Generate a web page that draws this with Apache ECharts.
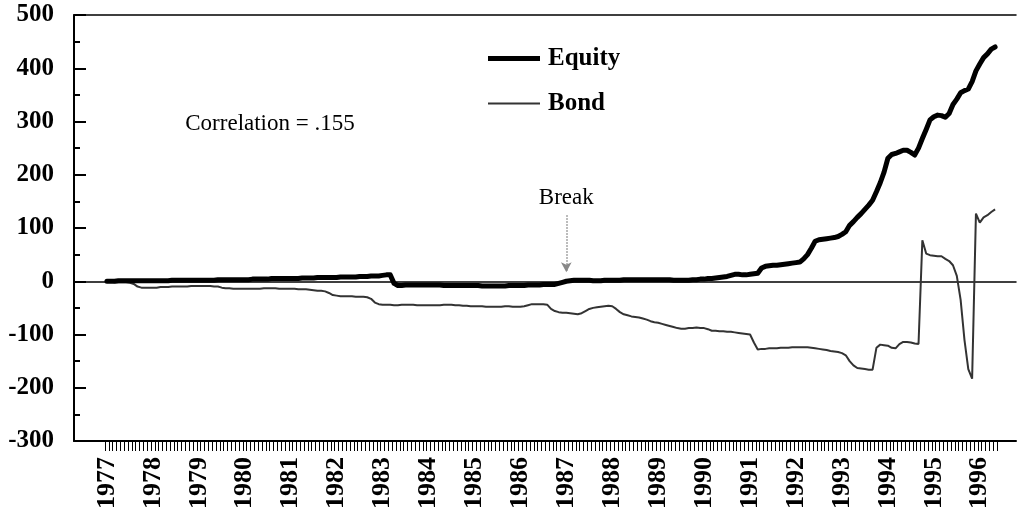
<!DOCTYPE html>
<html>
<head>
<meta charset="utf-8">
<script src="https://cdn.jsdelivr.net/npm/echarts@6/dist/echarts.min.js"></script>
<style>
html,body{margin:0;padding:0;background:#fff;}
#chart{width:1018px;height:516px;}
</style>
</head>
<body>
<div id="chart"></div>
<script>
// ---- data ----
const years = [1977,1978,1979,1980,1981,1982,1983,1984,1985,1986,1987,1988,1989,1990,1991,1992,1993,1994,1995,1996];
const monthsInLastYear = 5;
const seriesNames = ['Equity', 'Bond'];
const yTicks = { min: -300, max: 500, step: 100 };
const correlationText = 'Correlation = .155';
const breakLabel = 'Break';
const breakMonth = '1987-01';
const breakArrow = [124, 17];

const equity = [
  0,0,0,1,1,1,1,1,1,1,1,1,
  1,1,1,1,1,2,2,2,2,2,2,2,
  2,2,2,2,2,3,3,3,3,3,3,3,
  3,3,4,4,4,4,4,5,5,5,5,5,
  5,5,5,6,6,6,6,7,7,7,7,7,
  7,8,8,8,8,8,9,9,9,10,10,10,
  11,12,12,-4,-8,-8,-7,-7,-7,-7,-7,-7,
  -7,-7,-7,-7,-8,-8,-8,-8,-8,-8,-8,-8,
  -8,-8,-9,-9,-9,-9,-9,-9,-9,-8,-8,-8,
  -8,-8,-7,-7,-7,-7,-6,-6,-6,-6,-4,-2,
  0,1,2,2,2,2,2,1,1,1,2,2,
  2,2,2,3,3,3,3,3,3,3,3,3,
  3,3,3,3,2,2,2,2,2,3,3,4,
  4,5,5,6,7,8,9,11,13,13,12,12,
  13,14,15,25,28,29,30,30,31,32,33,34,
  35,36,42,50,62,75,78,79,80,81,82,84,
  88,93,105,112,120,127,135,143,152,168,185,205,
  231,238,240,243,246,246,242,237,250,268,285,303,
  309,312,311,308,315,332,342,354,358,361,375,395,
  408,420,427,436,440
];

const bond = [
  -1,-1,-2,-2,-2,-2,-3,-5,-10,-12,-12,-12,
  -12,-12,-11,-11,-11,-10,-10,-10,-10,-10,-9,-9,
  -9,-9,-9,-9,-10,-10,-12,-13,-13,-14,-14,-14,
  -14,-14,-14,-14,-14,-13,-13,-13,-13,-14,-14,-14,
  -14,-14,-15,-15,-15,-16,-17,-18,-18,-19,-22,-26,
  -27,-28,-28,-28,-28,-29,-29,-29,-30,-33,-40,-43,
  -44,-44,-44,-45,-45,-44,-44,-44,-44,-45,-45,-45,
  -45,-45,-45,-45,-44,-44,-44,-45,-45,-46,-46,-47,
  -47,-47,-47,-48,-48,-48,-48,-48,-47,-47,-48,-48,
  -48,-47,-45,-43,-43,-43,-43,-44,-52,-56,-58,-59,
  -59,-60,-61,-62,-60,-56,-52,-50,-49,-48,-47,-46,
  -47,-52,-58,-62,-64,-66,-67,-68,-70,-72,-75,-77,
  -78,-80,-82,-84,-86,-88,-89,-89,-88,-88,-87,-88,
  -88,-90,-93,-93,-94,-94,-95,-95,-96,-97,-98,-99,
  -100,-115,-128,-127,-127,-126,-126,-126,-125,-125,-125,-124,
  -124,-124,-124,-124,-125,-126,-127,-128,-129,-131,-132,-133,
  -135,-139,-150,-158,-163,-164,-165,-166,-166,-125,-119,-120,
  -121,-125,-126,-118,-114,-114,-115,-117,-118,77,52,49,
  48,47,47,42,38,30,10,-35,-110,-165,-183,127,
  110,120,124,130,135
];

// monthly categories built from the year list
const categories = [];
years.forEach((y, k) => {
  const n = (k === years.length - 1) ? monthsInLastYear : 12;
  for (let m = 1; m <= n; m++) categories.push(y + '-' + String(m).padStart(2, '0'));
});

const serif = 'Liberation Serif';
const gridTop = 15, gridBottom = 75;

const chart = echarts.init(document.getElementById('chart'), null, { renderer: 'canvas' });
chart.setOption({
  animation: false,
  backgroundColor: '#fff',
  grid: [
    { left: 74, right: 2, top: gridTop, bottom: gridBottom, outerBoundsMode: 'none' },
    { left: 105, right: 21, top: gridTop, bottom: gridBottom, outerBoundsMode: 'none' },
    { left: 74, right: 2, top: gridTop, bottom: gridBottom, outerBoundsMode: 'none' }
  ],
  legend: {
    data: [
      { name: seriesNames[0], icon: 'path://M0 0H100V10H0Z' },
      { name: seriesNames[1], icon: 'path://M0 0H100V4H0Z' }
    ],
    orient: 'vertical',
    left: 488,
    top: 46,
    itemWidth: 52,
    itemHeight: 14,
    itemGap: 20,
    padding: 0,
    textStyle: { fontFamily: serif, fontWeight: 'bold', fontSize: 25, color: '#000', padding: [0, 0, 0, 3] }
  },
  xAxis: [
    { gridIndex: 0, type: 'value', min: 0, max: 1, position: 'bottom',
      axisLine: { show: true, onZero: false, lineStyle: { color: '#000', width: 2 } },
      axisTick: { show: false }, axisLabel: { show: false }, splitLine: { show: false } },
    { gridIndex: 0, type: 'value', min: 0, max: 1, position: 'top',
      axisLine: { show: true, onZero: false, lineStyle: { color: '#000', width: 1.5 } },
      axisTick: { show: false }, axisLabel: { show: false }, splitLine: { show: false } },
    { gridIndex: 1, type: 'category', data: categories, boundaryGap: true, position: 'bottom',
      axisLine: { show: false, onZero: false },
      axisTick: { show: true, interval: 0, length: 10, lineStyle: { color: '#000', width: 1 } },
      axisLabel: {
        interval: (i) => i % 12 === 0,
        formatter: (v) => v.slice(0, 4),
        rotate: 90, margin: 16,
        fontFamily: serif, fontWeight: 'bold', fontSize: 26, color: '#000'
      },
      splitLine: { show: false } },
    { gridIndex: 2, type: 'value', min: 0, max: 1, position: 'bottom',
      axisLine: { show: true, onZero: true, lineStyle: { color: '#000', width: 1.5 } },
      axisTick: { show: false }, axisLabel: { show: false }, splitLine: { show: false } }
  ],
  yAxis: [
    { gridIndex: 0, type: 'value', min: yTicks.min, max: yTicks.max, interval: yTicks.step,
      axisLine: { show: true, onZero: false, lineStyle: { color: '#000', width: 2 } },
      axisTick: { show: true, inside: true, length: 12, lineStyle: { color: '#000', width: 2 } },
      minorTick: { show: true, splitNumber: 2, length: 6, lineStyle: { color: '#000', width: 2 } },
      axisLabel: { margin: 20, fontFamily: serif, fontWeight: 'bold', fontSize: 25, color: '#000' },
      splitLine: { show: false } },
    { gridIndex: 1, type: 'value', min: yTicks.min, max: yTicks.max, show: false },
    { gridIndex: 2, type: 'value', min: yTicks.min, max: yTicks.max, show: false }
  ],
  series: [
    { name: seriesNames[0], type: 'line', xAxisIndex: 2, yAxisIndex: 1, data: equity,
      symbol: 'none', z: 4,
      lineStyle: { color: '#000', width: 5, cap: 'round', join: 'round' },
      itemStyle: { color: '#000' } },
    { name: seriesNames[1], type: 'line', xAxisIndex: 2, yAxisIndex: 1, data: bond,
      symbol: 'none', z: 3,
      lineStyle: { color: '#333', width: 2 },
      itemStyle: { color: '#333' },
      markLine: {
        silent: true,
        symbol: ['none', 'arrow'],
        symbolSize: [8, 10],
        lineStyle: { color: '#888', type: 'dotted', width: 1.5 },
        label: { show: true, position: 'start', formatter: breakLabel, distance: 6,
                 fontFamily: serif, fontSize: 23, color: '#000' },
        data: [[ { coord: [breakMonth, breakArrow[0]] }, { coord: [breakMonth, breakArrow[1]] } ]]
      } }
  ],
  graphic: [
    { type: 'text', x: 270, y: 124,
      style: { text: correlationText, fontFamily: serif, fontSize: 23, fill: '#000',
               textAlign: 'center', textVerticalAlign: 'middle' } }
  ]
});
</script>
</body>
</html>
